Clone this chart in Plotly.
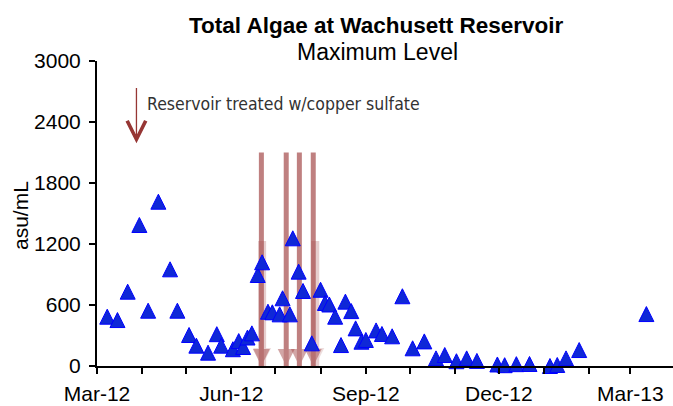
import plotly.graph_objects as go

# ---------------- data ----------------
sample_dates = ["2012-03-08", "2012-03-15", "2012-03-22", "2012-03-30",
                "2012-04-05", "2012-04-12", "2012-04-20", "2012-04-25",
                "2012-05-03", "2012-05-08", "2012-05-16", "2012-05-22", "2012-05-25",
                "2012-06-02", "2012-06-06", "2012-06-09", "2012-06-12", "2012-06-15",
                "2012-06-19", "2012-06-22", "2012-06-26", "2012-06-29",
                "2012-07-04", "2012-07-06", "2012-07-11", "2012-07-13", "2012-07-17",
                "2012-07-20", "2012-07-26",
                "2012-08-01", "2012-08-04", "2012-08-07", "2012-08-11", "2012-08-15",
                "2012-08-18", "2012-08-22", "2012-08-25", "2012-08-29",
                "2012-09-01", "2012-09-08", "2012-09-12", "2012-09-19", "2012-09-26",
                "2012-10-03", "2012-10-11", "2012-10-19", "2012-10-25",
                "2012-11-02", "2012-11-09", "2012-11-16", "2012-11-30",
                "2012-12-05", "2012-12-13", "2012-12-22",
                "2013-01-05", "2013-01-10", "2013-01-16", "2013-01-25",
                "2013-03-12"]
algae_max = [485, 452, 731, 1387,
             544, 1616, 951, 544,
             305, 200, 131, 313, 200,
             165, 245, 187, 280, 321,
             895, 1020, 534, 528,
             508, 666, 508, 1256, 928,
             738, 223,
             750, 620, 605, 485, 206,
             633, 540, 370, 239,
             256, 350, 315, 292, 686,
             174, 242, 75, 108,
             47, 75, 50, 15,
             8, 18, 20,
             0, 10, 75, 157,
             511]

# copper sulfate treatments (main arrows) and faint secondary arrows
treat_dates = ["2012-06-21 12:00", "2012-07-08 12:00", "2012-07-17 12:00", "2012-07-27 00:00"]
treat_top = [2100, 2100, 2100, 2100]
faint_dates = ["2012-06-22 00:00", "2012-07-28 09:00"]
faint_top = [1230, 1230]

note_date = "2012-03-28"
note_top, note_tip, note_text_y = 2750, 2190, 2580
note_text = "Reservoir treated w/copper sulfate"

x_range = ["2012-03-01", "2013-03-30 05:00"]
y_range = [0, 3000]
y_dtick = 600

# ---------------- layout constants ----------------
W, H = 673, 406
ML, MR, MT, MB = 97, 0, 61, 40
PLOT_H = H - MT - MB
MSIZE = 15
shift_val = (MSIZE / 2) * (y_range[1] - y_range[0]) / PLOT_H

FONT = "Liberation Sans, Arial, sans-serif"
NARROW = "Liberation Sans Narrow, Arial Narrow, DejaVu Sans Condensed, sans-serif"

fig = go.Figure()

# treatment arrows (drawn first so markers sit on top)
for d, top in zip(faint_dates, faint_top):
    fig.add_trace(go.Scatter(
        x=[d, d], y=[top, 0], mode="lines+markers",
        line=dict(color="rgb(175,95,95)", width=8),
        marker=dict(symbol="arrow-down", size=[0, 18], color="rgb(175,95,95)", line=dict(width=0)),
        opacity=0.3, hoverinfo="skip", showlegend=False, cliponaxis=False))
for d, top in zip(treat_dates, treat_top):
    fig.add_trace(go.Scatter(
        x=[d, d], y=[top, 0], mode="lines+markers",
        line=dict(color="rgb(165,75,75)", width=5),
        marker=dict(symbol="arrow-down", size=[0, 17], color="rgb(165,75,75)", line=dict(width=0)),
        opacity=0.7, hoverinfo="skip", showlegend=False, cliponaxis=False))

# algae samples (arrow-up glyph is an upright triangle hanging from its tip;
# the overlaid axis is offset by half a marker so the triangle is centred)
fig.add_trace(go.Scatter(
    x=sample_dates, y=algae_max, mode="markers", yaxis="y2",
    marker=dict(symbol="arrow-up", size=MSIZE, color="rgb(15,40,215)",
                line=dict(color="rgb(0,0,255)", width=1)),
    showlegend=False, cliponaxis=False))

axis_font = dict(family=FONT, size=21, color="black")

fig.update_layout(
    width=W, height=H,
    margin=dict(l=ML, r=MR, t=MT, b=MB, pad=0),
    paper_bgcolor="white", plot_bgcolor="white",
    showlegend=False,
    xaxis=dict(
        type="date", range=x_range,
        tick0="2012-03-01", dtick="M3", tickformat="%b-%y",
        ticks="outside", ticklen=6, tickwidth=1.5, tickcolor="black",
        minor=dict(dtick="M1", tick0="2012-03-01", ticks="outside", ticklen=6,
                   tickwidth=1.5, tickcolor="black", showgrid=False),
        showline=True, linecolor="black", linewidth=2,
        showgrid=False, zeroline=False, tickfont=axis_font, ticklabelstandoff=2,
    ),
    yaxis=dict(
        range=y_range, dtick=y_dtick, ticks="outside", ticklen=6, tickwidth=1.5,
        tickcolor="black", showline=True, linecolor="black", linewidth=2,
        showgrid=False, zeroline=False, tickfont=axis_font, ticklabelstandoff=4,
    ),
    yaxis2=dict(
        overlaying="y", range=[y_range[0] - shift_val, y_range[1] - shift_val],
        visible=False, showgrid=False, zeroline=False,
    ),
    annotations=[
        dict(text="<b>Total Algae at Wachusett Reservoir</b>", xref="paper", yref="paper",
             x=0.485, y=1.118, xanchor="center", yanchor="middle", showarrow=False,
             font=dict(family=FONT, size=22.5, color="black")),
        dict(text="Maximum Level", xref="paper", yref="paper",
             x=0.4875, y=1.0295, xanchor="center", yanchor="middle", showarrow=False,
             font=dict(family=FONT, size=23, color="black")),
        dict(text="asu/mL", xref="paper", yref="paper", x=-0.1337, y=0.495,
             xanchor="center", yanchor="middle", textangle=-90, showarrow=False,
             font=dict(family=FONT, size=21, color="black")),
        dict(text=note_text, xref="x", yref="y", x=note_date, y=note_text_y,
             xanchor="left", yanchor="middle", xshift=9, showarrow=False,
             font=dict(family=NARROW, size=17.5, color="rgb(50,50,50)")),
        dict(text="", xref="x", yref="y", x=note_date, y=note_tip,
             axref="x", ayref="y", ax=note_date, ay=note_top,
             showarrow=True, arrowhead=5, arrowsize=2.8, arrowwidth=1.3,
             arrowcolor="rgb(150,54,52)", standoff=0),
    ],
)

fig.write_html("out.html", config={"displayModeBar": False},
               post_script="document.body.style.margin='0';")
